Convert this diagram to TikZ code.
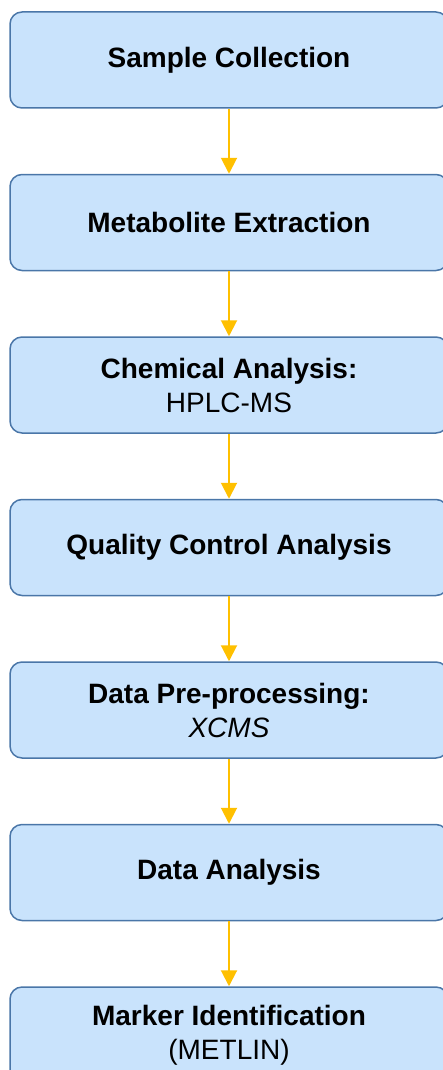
\documentclass[tikz,border=0pt]{standalone}
\usepackage{fontspec}
\setmainfont{Liberation Sans}
\usetikzlibrary{positioning,arrows.meta}
\definecolor{stagefill}{HTML}{C9E3FC}
\definecolor{stageline}{HTML}{4A76A8}
\definecolor{flowcolor}{HTML}{FFC000}

\begin{document}
\begin{tikzpicture}[
x=1pt, y=1pt,
stage/.style={rectangle, rounded corners=12pt, draw=stageline, fill=stagefill, line width=1.5pt, minimum width=438pt, minimum height=96pt, inner sep=0pt, align=center, font=\fontsize{28}{34}\selectfont},
flow/.style={draw=flowcolor, line width=2pt, -{Triangle[width=16pt, length=16pt]}},
node distance=65pt,
]
\useasboundingbox (0,0) rectangle (443,-1070);
\clip (0,0) rectangle (443,-1070);
\node[stage] (S1) at (229,-60) {\textbf{Sample Collection}};
\node[stage, below=of S1] (S2) {\textbf{Metabolite Extraction}};
\node[stage, below=of S2] (S3) {\textbf{Chemical Analysis:}\\HPLC-MS};
\node[stage, below=of S3] (S4) {\textbf{Quality Control Analysis}};
\node[stage, below=of S4] (S5) {\textbf{Data Pre-processing:}\\\textit{XCMS}};
\node[stage, below=of S5] (S6) {\textbf{Data Analysis}};
\node[stage, below=of S6] (S7) {\textbf{Marker Identification}\\(METLIN)};
\draw[flow] (S1) -- (S2);
\draw[flow] (S2) -- (S3);
\draw[flow] (S3) -- (S4);
\draw[flow] (S4) -- (S5);
\draw[flow] (S5) -- (S6);
\draw[flow] (S6) -- (S7);
\end{tikzpicture}
\end{document}
